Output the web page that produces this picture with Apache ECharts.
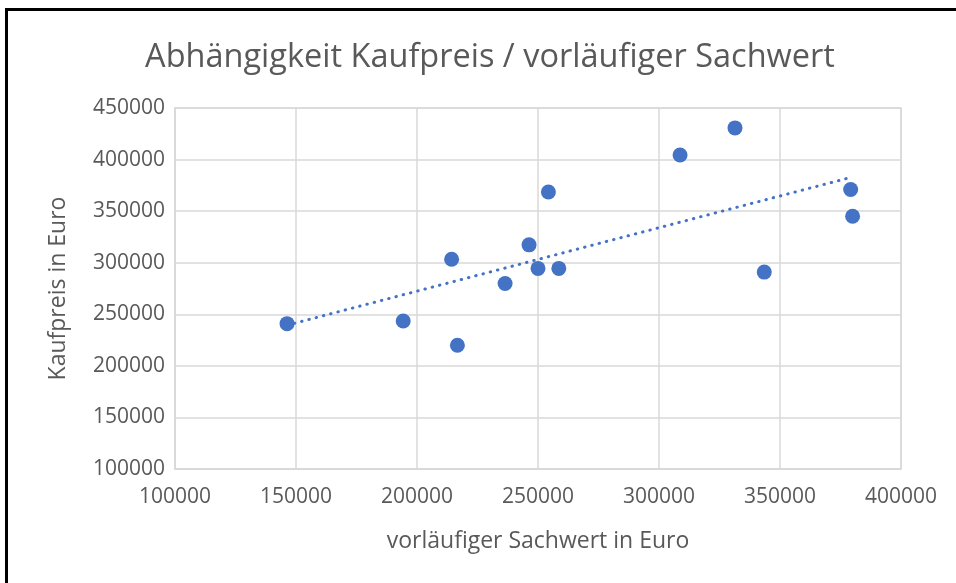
<!DOCTYPE html>
<html>
<head>
<meta charset="utf-8">
<script src="https://cdn.jsdelivr.net/npm/echarts@6/dist/echarts.min.js"></script>
<style>
  html, body { margin: 0; padding: 0; background: #fff; }
  #chart { width: 956px; height: 583px; }
</style>
</head>
<body>
<div id="chart"></div>
<script>
// vorläufiger Sachwert (x) und Kaufpreis (y)
const sachwert = [146300, 194300, 214300, 216700, 236400, 246300, 250000, 254300, 258600, 308700, 331400, 343500, 379200, 380000];
const kaufpreis = [240900, 243500, 303300, 220000, 279900, 317300, 294500, 368600, 294500, 404500, 430700, 290900, 371000, 345100];

const xTicks = [100000, 150000, 200000, 250000, 300000, 350000, 400000];
const yTicks = [100000, 150000, 200000, 250000, 300000, 350000, 400000, 450000];

const blau = '#4472C4';
const grau = '#595959';
const gitter = '#d9d9d9';
const schrift = '"Open Sans", "Noto Sans", sans-serif';

// lineare Trendlinie (kleinste Quadrate), wie Excel
function trendlinie(xs, ys) {
  const n = xs.length;
  let sx = 0, sy = 0, sxx = 0, sxy = 0;
  for (let i = 0; i < n; i++) {
    sx += xs[i]; sy += ys[i];
    sxx += xs[i] * xs[i]; sxy += xs[i] * ys[i];
  }
  const b = (n * sxy - sx * sy) / (n * sxx - sx * sx);
  const a = (sy - b * sx) / n;
  const x0 = Math.min(...xs), x1 = Math.max(...xs);
  return [[x0, a + b * x0], [x1, a + b * x1]];
}

const punkte = sachwert.map((x, i) => [x, kaufpreis[i]]);

const chart = echarts.init(document.getElementById('chart'), null, { renderer: 'canvas' });

const option = {
  animation: false,
  backgroundColor: '#fff',
  textStyle: { fontFamily: schrift },
  title: {
    text: 'Abhängigkeit Kaufpreis / vorläufiger Sachwert',
    left: 485,
    textAlign: 'center',
    top: 36,
    textStyle: { fontFamily: schrift, fontSize: 32.5, fontWeight: 'normal', color: grau }
  },
  grid: { left: 175, right: 55, top: 108, bottom: 114, containLabel: false },
  xAxis: {
    type: 'value',
    min: xTicks[0],
    max: xTicks[xTicks.length - 1],
    interval: xTicks[1] - xTicks[0],
    name: 'vorläufiger Sachwert in Euro',
    nameLocation: 'middle',
    nameGap: 61,
    nameTextStyle: { fontFamily: schrift, fontSize: 23, color: grau },
    axisLine: { show: true, lineStyle: { color: gitter, width: 1.5 } },
    axisTick: { show: false },
    axisLabel: { fontFamily: schrift, fontSize: 21, color: grau, margin: 18, formatter: v => String(v) },
    splitLine: { show: true, lineStyle: { color: gitter, width: 1.5 } }
  },
  yAxis: {
    type: 'value',
    min: yTicks[0],
    max: yTicks[yTicks.length - 1],
    interval: yTicks[1] - yTicks[0],
    name: 'Kaufpreis in Euro',
    nameLocation: 'middle',
    nameRotate: 90,
    nameGap: 105,
    nameTextStyle: { fontFamily: schrift, fontSize: 23, color: grau },
    axisLine: { show: true, lineStyle: { color: gitter, width: 1.5 } },
    axisTick: { show: false },
    axisLabel: { fontFamily: schrift, fontSize: 21, color: grau, margin: 10, formatter: v => String(v) },
    splitLine: { show: true, lineStyle: { color: gitter, width: 1.5 } }
  },
  graphic: [
    { type: 'rect', shape: { x: 5, y: 8, width: 3, height: 575 }, style: { fill: '#000' } },
    { type: 'rect', shape: { x: 5, y: 8, width: 951, height: 3 }, style: { fill: '#000' } },
    // rechter und oberer Rand des Plotbereichs
    { type: 'rect', shape: { x: 175, y: 108, width: 726, height: 361 }, style: { fill: 'none', stroke: gitter, lineWidth: 1.5 }, silent: true }
  ],
  series: [
    {
      name: 'Trend',
      type: 'line',
      data: trendlinie(sachwert, kaufpreis),
      symbol: 'none',
      z: 3,
      lineStyle: { color: blau, width: 3, type: [0.5, 7], cap: 'round' }
    },
    {
      name: 'Kaufpreis',
      type: 'scatter',
      data: punkte,
      symbol: 'circle',
      symbolSize: 15,
      z: 4,
      itemStyle: { color: blau, opacity: 1 }
    }
  ]
};

chart.setOption(option);
</script>
</body>
</html>
